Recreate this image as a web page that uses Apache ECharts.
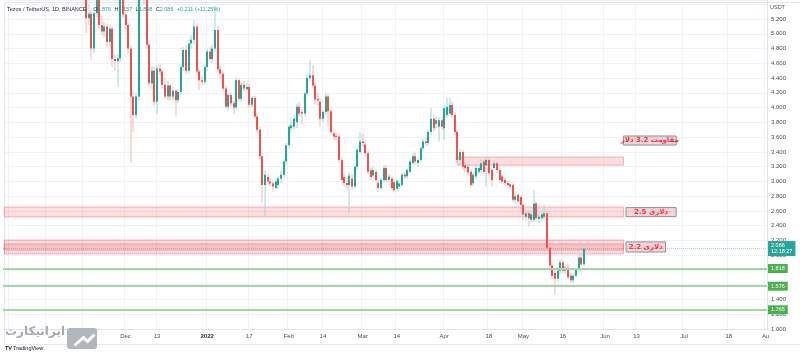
<!DOCTYPE html>
<html><head><meta charset="utf-8">
<script src="https://cdn.jsdelivr.net/npm/echarts@6/dist/echarts.min.js"></script>
<style>html,body{margin:0;padding:0;background:#fff}#c{width:800px;height:355px}</style>
</head><body><div id="c"></div>
<script>
// ---------- data ----------
const axisStartDate = '2021-10-16';
const axisDayCount = 290;
const firstCandleDate = '2021-11-16';

const opens = [
5.60,5.21,5.27,4.80,5.28,5.52,5.12,5.03,5.10,4.89,
5.07,4.66,4.63,4.67,5.62,5.26,5.12,4.80,4.15,3.90,
4.15,5.55,5.80,5.55,4.85,4.33,4.50,4.08,4.53,4.49,
4.31,4.15,4.30,4.15,4.23,4.10,4.21,4.55,4.78,4.50,
4.87,4.92,5.10,4.49,4.37,4.35,4.55,4.76,4.66,4.80,
5.05,4.52,4.46,4.26,4.01,4.17,4.06,4.00,4.37,4.12,
4.31,4.25,4.28,4.04,4.13,3.88,3.70,3.34,2.95,3.06,
3.00,2.97,2.91,2.95,3.04,3.09,3.27,3.49,3.72,3.74,
3.80,4.01,3.94,3.92,4.19,4.40,4.44,4.30,4.12,4.08,
3.85,3.94,4.15,3.95,3.65,3.62,3.61,3.29,3.06,2.98,
2.95,3.04,2.93,3.20,3.40,3.54,3.50,3.38,3.15,3.08,
3.13,2.98,2.91,3.02,3.18,3.02,3.04,2.99,2.90,2.93,
2.95,3.09,3.07,3.13,3.25,3.34,3.25,3.29,3.45,3.54,
3.52,3.67,3.85,3.78,3.74,3.83,3.72,3.90,3.92,4.035,
3.90,3.67,3.29,3.40,3.22,3.20,3.13,2.975,3.065,3.13,
3.155,3.27,3.22,3.29,3.155,3.18,3.245,3.155,3.065,3.02,
2.98,2.96,2.95,2.75,2.82,2.79,2.68,2.52,2.57,2.48,
2.48,2.70,2.49,2.50,2.52,2.57,2.10,1.86,1.76,1.68,
1.79,1.90,1.79,1.83,1.72,1.66,1.72,1.80,1.97,1.876];
const closes = [
5.21,5.27,4.80,5.28,5.52,5.12,5.03,5.10,4.89,5.07,
4.66,4.63,4.67,5.62,5.26,5.12,4.80,4.15,3.90,4.15,
5.55,5.80,5.55,4.85,4.33,4.50,4.08,4.53,4.49,4.31,
4.15,4.30,4.15,4.23,4.10,4.21,4.55,4.78,4.50,4.87,
4.92,5.10,4.49,4.37,4.35,4.55,4.76,4.66,4.80,5.05,
4.52,4.46,4.26,4.01,4.17,4.06,4.00,4.37,4.12,4.31,
4.26,4.28,4.04,4.13,3.88,3.70,3.34,2.95,3.09,3.00,
2.97,2.93,3.00,3.04,3.09,3.27,3.49,3.74,3.76,3.85,
4.01,3.92,3.92,4.19,4.40,4.44,4.30,4.11,4.10,3.85,
3.94,4.15,3.95,3.67,3.61,3.60,3.29,3.02,2.98,2.95,
3.08,2.93,3.20,3.43,3.54,3.52,3.38,3.13,3.06,3.155,
3.02,2.91,3.02,3.18,3.02,3.065,2.91,2.88,3.01,2.97,
3.09,3.065,3.155,3.27,3.34,3.27,3.29,3.45,3.54,3.52,
3.67,3.85,3.72,3.83,3.83,3.74,3.99,4.01,4.035,3.90,
3.67,3.29,3.40,3.20,3.18,3.12,2.95,3.09,3.18,3.18,
3.245,3.13,3.29,3.11,3.02,3.245,3.155,3.02,2.997,2.98,
2.95,2.93,2.75,2.80,2.73,2.68,2.55,2.57,2.50,2.55,
2.70,2.50,2.52,2.55,2.57,2.10,1.86,1.72,1.68,1.79,
1.90,1.79,1.83,1.70,1.66,1.72,1.80,1.97,1.875,2.086];
const highs = [
5.75,5.40,5.32,5.32,5.62,5.56,5.24,5.16,5.14,5.12,
5.10,4.72,4.72,5.80,5.72,5.30,5.15,4.85,4.22,4.20,
5.70,5.95,5.90,5.60,4.88,4.56,4.55,4.58,4.60,4.52,
4.40,4.36,4.33,4.28,4.25,4.25,4.58,4.82,4.85,4.92,
4.98,5.19,5.14,4.52,4.42,4.58,4.80,4.82,4.85,5.38,
5.10,4.56,4.50,4.30,4.20,4.20,4.10,4.40,4.40,4.35,
4.36,4.33,4.32,4.16,4.16,3.92,3.74,3.38,3.15,3.10,
3.04,3.00,3.04,3.07,3.15,3.30,3.52,3.77,3.85,3.90,
4.05,4.07,3.98,4.22,4.45,4.64,4.58,4.34,4.20,4.12,
3.97,4.20,4.18,3.98,3.70,3.66,3.64,3.32,3.10,3.04,
3.12,3.10,3.22,3.45,3.67,3.65,3.55,3.42,3.18,3.20,
3.17,3.00,3.05,3.22,3.22,3.10,3.08,3.02,3.04,3.00,
3.12,3.12,3.18,3.30,3.38,3.39,3.32,3.48,3.58,3.60,
3.70,3.99,3.90,3.88,3.87,3.88,4.03,4.13,4.13,4.08,
3.93,3.70,3.44,3.43,3.26,3.23,3.16,3.12,3.21,3.22,
3.30,3.30,3.32,3.32,3.18,3.28,3.27,3.18,3.09,3.05,
3.00,2.98,2.97,2.84,2.85,2.82,2.70,2.61,2.60,2.58,
2.88,2.73,2.56,2.58,2.68,2.60,2.18,1.90,1.80,1.84,
1.94,1.93,1.86,1.88,1.76,1.75,1.82,2.00,2.02,2.157];
const lows = [
5.01,5.12,4.65,4.74,5.22,5.06,4.98,4.95,4.82,4.82,
4.55,4.50,4.28,4.62,5.22,5.05,4.72,3.25,3.67,3.85,
4.10,5.45,5.40,4.80,4.30,4.25,4.02,3.92,4.44,4.26,
4.12,4.10,4.10,4.10,3.88,4.06,4.18,4.50,4.46,4.46,
4.80,4.86,4.45,4.24,4.30,4.31,4.50,4.62,4.60,4.76,
4.48,4.40,4.22,3.98,3.95,4.02,3.92,3.97,4.08,4.08,
4.22,4.20,4.00,4.00,3.85,3.66,3.30,2.71,2.53,2.95,
2.93,2.86,2.89,2.90,2.98,3.05,3.22,3.45,3.66,3.70,
3.72,3.88,3.76,3.88,4.15,4.36,4.26,4.05,4.02,3.74,
3.80,3.90,3.74,3.63,3.56,3.55,3.25,2.98,2.94,2.90,
2.57,2.88,2.90,3.16,3.38,3.47,3.34,3.10,3.02,3.04,
2.99,2.86,2.88,2.99,2.98,2.98,2.88,2.85,2.86,2.90,
2.92,3.03,3.04,3.10,3.22,3.23,3.20,3.26,3.42,3.48,
3.49,3.63,3.68,3.72,3.54,3.70,3.56,3.86,3.88,3.86,
3.63,3.25,3.22,3.16,3.12,3.08,2.92,2.94,3.03,3.10,
3.12,3.10,2.93,3.08,2.93,3.15,3.12,2.99,2.97,2.95,
2.92,2.90,2.72,2.70,2.70,2.62,2.48,2.46,2.39,2.44,
2.45,2.46,2.44,2.46,2.48,2.05,1.80,1.68,1.46,1.64,
1.75,1.76,1.74,1.67,1.62,1.63,1.70,1.78,1.86,1.858];

const xTickLabels = [
  ['2021-11-15','15'],['2021-12-01','Dec'],['2021-12-13','13'],['2022-01-01','2022'],
  ['2022-01-17','17'],['2022-02-01','Feb'],['2022-02-14','14'],['2022-03-01','Mar'],
  ['2022-03-14','14'],['2022-04-01','Apr'],['2022-04-18','18'],['2022-05-01','May'],
  ['2022-05-16','16'],['2022-06-01','Jun'],['2022-06-13','13'],['2022-07-01','Jul'],
  ['2022-07-18','18'],['2022-08-01','Au']];
const extraGridDates = ['2021-11-01','2021-10-18'];

const yMin = 1.0, yMax = 5.458, yStep = 0.2;
const supportLevels = [1.818, 1.576, 1.265];
const lastPrice = 2.086, lastTime = '12:18:27';
const headerTitle = 'Tezos / TetherUS, 1D, BINANCE';
const headerOHLC = [['O','1.876'],['H','2.157'],['L','1.858'],['C','2.086']];
const headerChange = '+0.211 (+11.25%)';

// zones: [fromDate, toDate, high, low]
const zones = [
  ['2021-10-16','2022-06-08',2.653,2.518],
  ['2021-10-16','2022-06-08',2.206,2.070],
  ['2021-10-16','2022-06-08',2.152,2.016],
  ['2022-04-06','2022-06-08',3.330,3.220]
];
// label boxes: [fromDate, toDate, high, low, text]
const labelBoxes = [
  ['2022-06-08','2022-06-28',3.615,3.493,'مقاومت 3.2 دلار'],
  ['2022-06-09','2022-06-28',2.645,2.522,'2.5 دلاری'],
  ['2022-06-09','2022-06-24',2.180,2.043,'2.2 دلاری']
];
const watermarkText = 'ایرانیکارت';

// ---------- build ----------
function addDays(iso, n){ const d = new Date(iso+'T00:00:00Z'); d.setUTCDate(d.getUTCDate()+n); return d.toISOString().slice(0,10); }
const categories = [];
for (let i = 0; i < axisDayCount; i++) categories.push(addDays(axisStartDate, i));
const firstIdx = categories.indexOf(firstCandleDate);
const candleData = opens.map((o, k) => [firstIdx + k, o, closes[k], lows[k], highs[k]]);
const closeLine = categories.map(() => null);
closes.forEach((c, k) => { closeLine[firstIdx + k] = c; });

const labelMap = {}; xTickLabels.forEach(([d, t]) => { labelMap[d] = t; });
const gridSet = {}; xTickLabels.forEach(([d]) => gridSet[d] = 1); extraGridDates.forEach(d => gridSet[d] = 1);

const UP = '#26a69a', DOWN = '#ef5350', UPW = '#9fd8d1', DOWNW = '#f8b4b3';
const FONT = 'Liberation Sans, Arial, sans-serif';

function renderCandle(params, api) {
  const x = api.value(0), o = api.value(1), c = api.value(2), l = api.value(3), h = api.value(4);
  const pO = api.coord([x, o]), pC = api.coord([x, c]), pL = api.coord([x, l]), pH = api.coord([x, h]);
  const up = c >= o;
  const left = Math.round(pO[0] - 1);
  const top = Math.min(pO[1], pC[1]), bot = Math.max(pO[1], pC[1]);
  return {
    type: 'group',
    children: [
      { type: 'line', shape: { x1: left + 1, y1: pH[1], x2: left + 1, y2: pL[1] },
        style: { stroke: up ? UPW : DOWNW, lineWidth: 1 } },
      { type: 'rect', shape: { x: left, y: top, width: 2, height: Math.max(1, bot - top) },
        style: { fill: up ? UP : DOWN } }
    ]
  };
}

const zoneAreas = zones.map(z => [
  { xAxis: z[0], yAxis: z[2] },
  { xAxis: z[1], yAxis: z[3] }
]);
const boxAreas = labelBoxes.map(b => [
  { xAxis: b[0], yAxis: b[2],
    itemStyle: { color: 'rgba(242,54,69,0.22)', borderColor: '#8a8f99', borderWidth: 1 },
    label: { show: true, position: 'inside', formatter: b[4], color: '#f23645', fontWeight: 'bold',
             fontSize: 7, fontFamily: 'DejaVu Sans, sans-serif' } },
  { xAxis: b[1], yAxis: b[3] }
]);

const tagLabel = (txt, bg) => ({ show: true, position: 'end', distance: 1, formatter: txt,
  backgroundColor: bg, color: '#ffffff', fontSize: 5.5, fontFamily: FONT, padding: [2, 3, 1, 3], lineHeight: 6 });

const option = {
  animation: false,
  backgroundColor: '#ffffff',
  grid: { left: 3, right: 33, top: 0, bottom: 26, containLabel: false },
  xAxis: {
    type: 'category', data: categories, boundaryGap: true,
    axisLine: { show: true, lineStyle: { color: '#e0e3eb' } },
    axisTick: { show: false },
    axisLabel: {
      interval: (idx, val) => labelMap[val] !== undefined,
      formatter: (val) => val === '2022-01-01' ? '{b|2022}' : (labelMap[val] || ''),
      color: '#4a4e58', fontSize: 6, fontFamily: FONT, margin: 4,
      rich: { b: { fontWeight: 'bold', fontSize: 6, color: '#2a2e39', fontFamily: FONT } }
    },
    splitLine: { show: true, interval: (idx, val) => gridSet[val] !== undefined,
      lineStyle: { color: '#f0f2f7', width: 1 } }
  },
  yAxis: {
    type: 'value', position: 'right', min: yMin, max: yMax, interval: yStep,
    axisLine: { show: true, lineStyle: { color: '#e0e3eb' } },
    axisTick: { show: false },
    axisLabel: { color: '#4a4e58', fontSize: 6, fontFamily: FONT, margin: 4,
      formatter: v => v > 5.39 ? '' : v.toFixed(3) },
    splitLine: { lineStyle: { color: '#f0f2f7', width: 1 } }
  },
  series: [
    {
      type: 'line', data: closeLine, showSymbol: false, silent: true, z: 1,
      lineStyle: { opacity: 0 },
      markArea: {
        silent: true,
        itemStyle: { color: 'rgba(242,54,69,0.17)', borderColor: 'rgba(242,54,69,0.35)', borderWidth: 1 },
        data: zoneAreas.concat(boxAreas)
      },
      markLine: {
        silent: true, symbol: ['none', 'none'], animation: false,
        data: supportLevels.map(v => ({ yAxis: v,
          lineStyle: { color: '#a5d6a7', width: 2, type: 'solid' },
          label: tagLabel(v.toFixed(3), '#4caf50') }))
          .concat([{ yAxis: lastPrice,
            lineStyle: { color: 'rgba(38,166,154,0.4)', width: 1, type: 'dotted' },
            label: tagLabel(lastPrice.toFixed(3) + '\n' + lastTime, '#26a69a') }])
      }
    },
    {
      type: 'custom', data: candleData, renderItem: renderCandle, clip: true, z: 3,
      encode: { x: 0, y: [1, 2, 3, 4] }
    }
  ],
  graphic: [
    { type: 'rect', left: 2, top: 0, z: -1, silent: true,
      shape: { width: 796, height: 342 }, style: { fill: 'none', stroke: '#e6e8ee', lineWidth: 1 } },
    { type: 'text', left: 7, top: 3, z: 10, style: {
      text: '{t|' + headerTitle + '}  ' + headerOHLC.map(p => '{k|' + p[0] + '}{v|' + p[1] + '}').join(' ') + ' {v|' + headerChange + '}',
      rich: {
        t: { fontSize: 5.5, fill: '#2a2e39', fontFamily: FONT },
        k: { fontSize: 5.5, fill: '#2a2e39', fontFamily: FONT },
        v: { fontSize: 5.5, fill: '#26a69a', fontFamily: FONT }
      } } },
    { type: 'text', left: 770, top: 4, z: 10, style: { text: 'USDT', fontSize: 5.5, fill: '#4a4e58', fontFamily: FONT } },
    { type: 'text', left: 5, top: 326, z: 10, style: { text: watermarkText, fontSize: 12, fill: '#a7aaaf',
      fontFamily: 'DejaVu Sans, sans-serif', fontWeight: 'bold' } },
    { type: 'rect', left: 67, top: 328, z: 10, shape: { width: 30, height: 21, r: 3 }, style: { fill: '#b3b6ba' } },
    { type: 'polyline', left: 72, top: 332, z: 11, shape: { points: [[0, 12], [9, 4], [13, 8], [20, 1]] },
      style: { stroke: '#ffffff', lineWidth: 3, fill: 'none' } },
    { type: 'text', left: 5, top: 345, z: 10, style: { text: 'TV', fontSize: 5.5, fontWeight: 'bold', fill: '#131722', fontFamily: FONT } },
    { type: 'text', left: 13, top: 345, z: 10, style: { text: 'TradingView', fontSize: 5.5, fill: '#131722', fontFamily: FONT } }
  ]
};

const chart = echarts.init(document.getElementById('c'), null, { renderer: 'canvas' });
chart.setOption(option);
</script>
</body></html>
